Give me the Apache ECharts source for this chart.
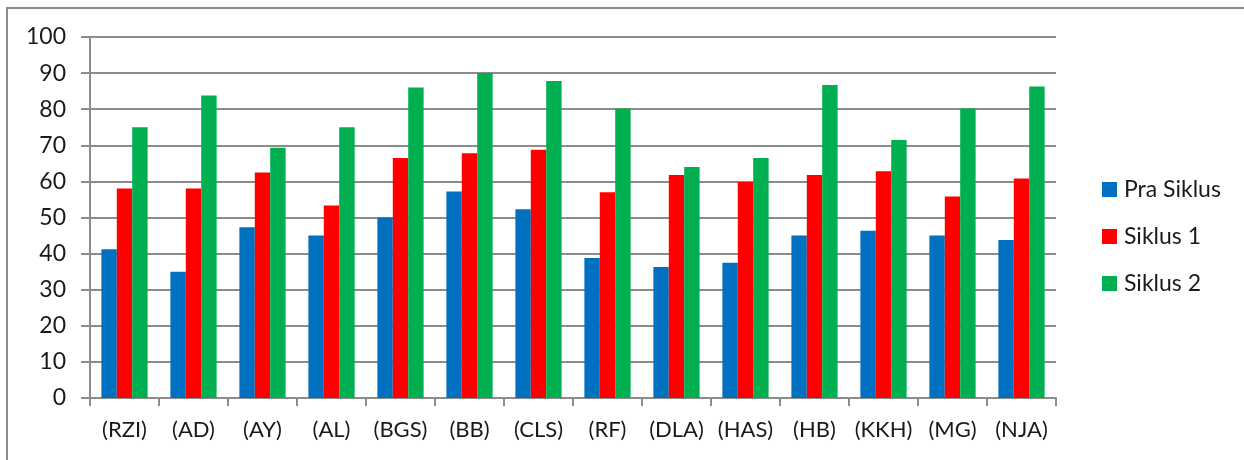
<!DOCTYPE html>
<html>
<head>
<meta charset="utf-8">
<script src="https://cdn.jsdelivr.net/npm/echarts@6/dist/echarts.min.js"></script>
<style>
  html, body { margin: 0; padding: 0; background: #fff; }
  #chart { width: 1244px; height: 460px; }
</style>
</head>
<body>
<div id="chart"></div>
<script>
// Participants (initials) along the category axis
const categories = ['(RZI)', '(AD)', '(AY)', '(AL)', '(BGS)', '(BB)', '(CLS)', '(RF)', '(DLA)', '(HAS)', '(HB)', '(KKH)', '(MG)', '(NJA)'];

// Scores per cycle
const praSiklus = [41.2, 35, 47.3, 45, 50, 57.2, 52.3, 38.8, 36.3, 37.5, 45, 46.3, 45, 43.8];
const siklus1   = [58, 58, 62.5, 53.3, 66.5, 67.8, 68.8, 57, 61.8, 59.8, 61.8, 62.8, 55.8, 60.8];
const siklus2   = [75, 83.8, 69.3, 75, 86, 90, 87.8, 80.2, 64, 66.5, 86.7, 71.5, 80.2, 86.3];

const seriesNames = ['Pra Siklus', 'Siklus 1', 'Siklus 2'];
const seriesColors = ['#0070C0', '#FF0000', '#00B050'];

const FONT = 'Lato, "Open Sans", sans-serif';
const GRID_GRAY = '#8c8c8c';
const TEXT = '#1a1a1a';

const chart = echarts.init(document.getElementById('chart'), null, { renderer: 'canvas' });

const makeBar = (name, data, color) => ({
  name,
  type: 'bar',
  data,
  barGap: '0%',
  barCategoryGap: '33%',
  itemStyle: { color },
  emphasis: { disabled: true }
});

chart.setOption({
  animation: false,
  backgroundColor: '#ffffff',
  textStyle: { fontFamily: FONT },
  graphic: [{
    type: 'rect',
    shape: { x: 7, y: 8, width: 1300, height: 500 },
    style: { fill: 'none', stroke: '#8c8c8c', lineWidth: 2 },
    silent: true,
    z: -1
  }],
  grid: { left: 90, right: 188, top: 37, bottom: 62, containLabel: false },
  legend: {
    orient: 'vertical',
    left: 1097,
    top: 173,
    itemWidth: 15,
    itemHeight: 15,
    itemGap: 24,
    icon: 'rect',
    data: seriesNames,
    textStyle: { fontFamily: FONT, fontSize: 23, color: TEXT, padding: [0, 0, 0, 2] },
    selectedMode: false
  },
  xAxis: {
    type: 'category',
    data: categories,
    axisLine: { show: true, lineStyle: { color: GRID_GRAY, width: 2 } },
    axisTick: { show: true, length: 8, lineStyle: { color: GRID_GRAY, width: 2 } },
    axisLabel: { fontFamily: FONT, fontSize: 22, color: TEXT, margin: 21, interval: 0 },
    splitLine: { show: false }
  },
  yAxis: {
    type: 'value',
    min: 0,
    max: 100,
    interval: 10,
    axisLine: { show: true, lineStyle: { color: GRID_GRAY, width: 2 } },
    axisTick: { show: true, length: 9, lineStyle: { color: GRID_GRAY, width: 2 } },
    axisLabel: { fontFamily: FONT, fontSize: 23, color: TEXT, margin: 24 },
    splitLine: { show: true, lineStyle: { color: GRID_GRAY, width: 2 } }
  },
  series: [
    makeBar(seriesNames[0], praSiklus, seriesColors[0]),
    makeBar(seriesNames[1], siklus1, seriesColors[1]),
    makeBar(seriesNames[2], siklus2, seriesColors[2])
  ]
});
</script>
</body>
</html>
